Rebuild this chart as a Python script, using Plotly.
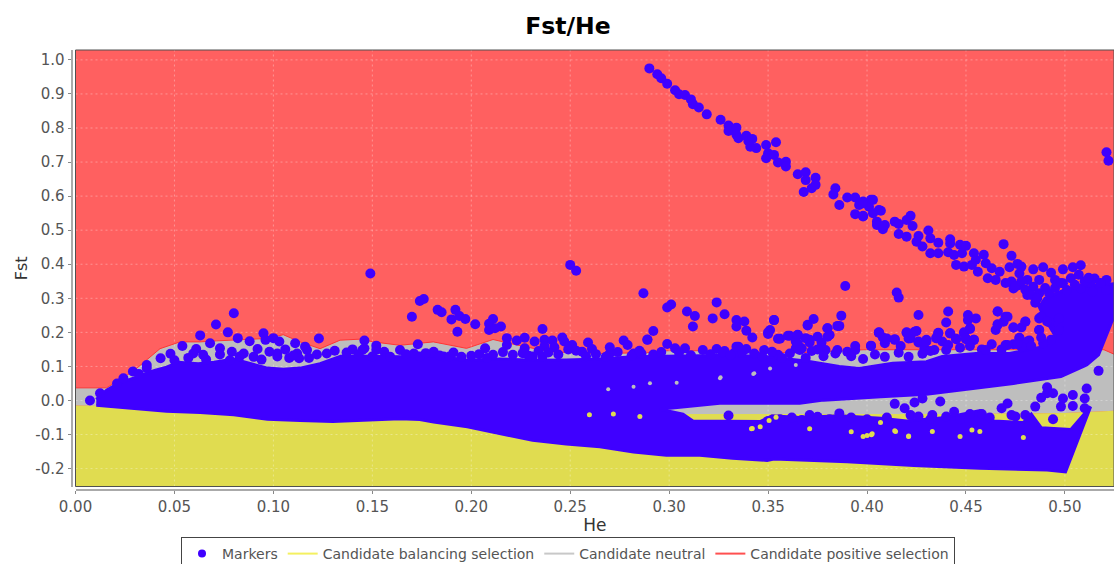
import plotly.graph_objects as go

title = "Fst/He"
x_label = "He"
y_label = "Fst"
he_ticks = [0.00, 0.05, 0.10, 0.15, 0.20, 0.25, 0.30, 0.35, 0.40, 0.45, 0.50]
he_tick_text = ["0.00", "0.05", "0.10", "0.15", "0.20", "0.25", "0.30", "0.35", "0.40", "0.45", "0.50"]
fst_ticks = [-0.2, -0.1, 0.0, 0.1, 0.2, 0.3, 0.4, 0.5, 0.6, 0.7, 0.8, 0.9, 1.0]
fst_tick_text = ["-0.2", "-0.1", "0.0", "0.1", "0.2", "0.3", "0.4", "0.5", "0.6", "0.7", "0.8", "0.9", "1.0"]
he_range = [0.0, 0.5248]
fst_range = [-0.2526, 1.029]

# upper limit of the neutral zone
upper_he = [0, 0.0157, 0.029, 0.0427, 0.0528, 0.0629, 0.0713, 0.0797, 0.0966, 0.105, 0.1135, 0.1236, 0.1337, 0.1438,
            0.1505, 0.164, 0.1808, 0.1976, 0.211, 0.2229, 0.2397, 0.2515, 0.265, 0.2885, 0.2986, 0.3155, 0.3323, 0.366,
            0.3984, 0.4574, 0.5197, 0.5248]
upper_fst = [0.037, 0.037, 0.085, 0.152, 0.172, 0.172, 0.175, 0.177, 0.182, 0.193, 0.172, 0.152, 0.177, 0.18,
             0.172, 0.162, 0.172, 0.153, 0.179, 0.163, 0.143, 0.14, 0.138, 0.14, 0.146, 0.146, 0.143, 0.14,
             0.149, 0.149, 0.149, 0.136]
# lower limit of the neutral zone
lower_he = [0, 0.05, 0.1, 0.2, 0.33, 0.45, 0.5, 0.5248]
lower_fst = [-0.015, -0.02, -0.03, -0.04, -0.04, -0.04, -0.037, -0.03]

# outline of the region where the markers merge into a solid mass
dense_he = [0.0105, 0.0157, 0.021, 0.03, 0.04, 0.046, 0.052, 0.062, 0.07, 0.08, 0.09, 0.097, 0.105, 0.1135, 0.1236,
            0.134, 0.147, 0.164, 0.181, 0.198, 0.2145, 0.231, 0.248, 0.265, 0.282, 0.30, 0.315, 0.332, 0.35, 0.37,
            0.386, 0.396, 0.413, 0.43, 0.438, 0.455, 0.472, 0.489, 0.495, 0.489, 0.487, 0.49, 0.50, 0.51, 0.53, 0.53,
            0.524, 0.520, 0.517, 0.511, 0.498, 0.474, 0.44, 0.43, 0.407, 0.378, 0.366, 0.339, 0.3256, 0.2953,
            0.307, 0.312, 0.346, 0.352, 0.366, 0.386, 0.407, 0.42, 0.44, 0.457, 0.464, 0.479, 0.483, 0.488, 0.503,
            0.513, 0.5003, 0.491, 0.457, 0.4236, 0.39, 0.353, 0.3495, 0.332, 0.3155, 0.2986, 0.282, 0.265, 0.248,
            0.231, 0.2145, 0.198, 0.181, 0.174, 0.164, 0.147, 0.13, 0.1135, 0.097, 0.08, 0.063, 0.046, 0.029, 0.0124,
            0.0105]
dense_fst = [0.003, 0.03, 0.048, 0.068, 0.088, 0.098, 0.112, 0.108, 0.112, 0.122, 0.105, 0.095, 0.092, 0.095, 0.108,
             0.13, 0.13, 0.128, 0.132, 0.118, 0.122, 0.118, 0.119, 0.122, 0.128, 0.13, 0.132, 0.133, 0.128, 0.115,
             0.10, 0.094, 0.109, 0.114, 0.129, 0.138, 0.138, 0.158, 0.19, 0.25, 0.275, 0.30, 0.325, 0.335, 0.345, 0.236,
             0.236, 0.178, 0.134, 0.104, 0.07, 0.05, 0.026, 0.018, 0.011, 0.001, -0.008, -0.008, -0.008, -0.026,
             -0.04, -0.06, -0.062, -0.045, -0.05, -0.045, -0.052, -0.06, -0.05, -0.03, -0.06, -0.065, -0.04, -0.08, -0.085,
             -0.018, -0.21, -0.204, -0.199, -0.191, -0.18, -0.172, -0.176, -0.17, -0.161, -0.161, -0.151, -0.136, -0.128,
             -0.117, -0.097, -0.077, -0.063, -0.056, -0.054, -0.059, -0.062, -0.059, -0.055, -0.042, -0.035, -0.032, -0.023, -0.016,
             -0.014]

# individually readable markers
marker_he = [0.0073, 0.0124, 0.021, 0.0242, 0.029, 0.032, 0.036, 0.036, 0.043, 0.048,
             0.290, 0.294, 0.296, 0.299, 0.303, 0.305, 0.308, 0.311, 0.312, 0.315, 0.319, 0.326, 0.330, 0.330, 0.334, 0.334,
             0.335, 0.339, 0.340, 0.342, 0.341, 0.344, 0.349, 0.354, 0.350, 0.353, 0.349, 0.355, 0.359, 0.359, 0.365, 0.369,
             0.369, 0.374, 0.374, 0.372, 0.368, 0.384, 0.383, 0.390, 0.386, 0.394, 0.396, 0.394, 0.398, 0.402, 0.401, 0.398,
             0.406, 0.405,
             0.521, 0.522, 0.403, 0.398, 0.407, 0.403, 0.398, 0.405, 0.409, 0.408, 0.414, 0.416, 0.422, 0.420, 0.423, 0.416,
             0.420, 0.426, 0.431, 0.425, 0.428, 0.432, 0.436, 0.432, 0.436, 0.442, 0.442, 0.441, 0.447, 0.450, 0.444, 0.448,
             0.445, 0.449, 0.469, 0.473, 0.454, 0.459, 0.455, 0.453, 0.460, 0.463, 0.456, 0.461, 0.467, 0.465, 0.472, 0.476,
             0.478, 0.477, 0.484, 0.489, 0.493, 0.499, 0.504, 0.508, 0.503, 0.507, 0.515, 0.521, 0.487, 0.495, 0.499, 0.473,
             0.477, 0.481, 0.484, 0.487, 0.485, 0.481, 0.474, 0.501, 0.492, 0.513, 0.508, 0.514, 0.521, 0.415, 0.416,
             0.426, 0.441, 0.451, 0.455, 0.451, 0.440, 0.466, 0.470, 0.469, 0.466, 0.465, 0.425, 0.420, 0.422, 0.406, 0.408,
             0.409, 0.402, 0.414, 0.417, 0.426, 0.430, 0.429, 0.436, 0.435, 0.438, 0.441, 0.442, 0.445, 0.449, 0.452, 0.450,
             0.454, 0.474, 0.478, 0.480, 0.477, 0.470, 0.474, 0.479, 0.482, 0.487, 0.492, 0.487, 0.497, 0.493, 0.489, 0.497,
             0.434,
             0.517, 0.511, 0.491, 0.491, 0.488, 0.494, 0.499, 0.498, 0.504, 0.510, 0.504, 0.510, 0.494, 0.485, 0.471, 0.468,
             0.473, 0.475, 0.480, 0.437, 0.428, 0.424, 0.414, 0.419, 0.422, 0.426, 0.433, 0.330, 0.367, 0.371, 0.386, 0.440,
             0.444,
             0.287, 0.301, 0.299, 0.324, 0.309, 0.313, 0.328, 0.322, 0.312, 0.292, 0.289, 0.299, 0.303, 0.308, 0.334, 0.338,
             0.334, 0.339, 0.342, 0.324, 0.328, 0.335, 0.339, 0.333, 0.353, 0.351, 0.350, 0.356, 0.361, 0.365, 0.364, 0.348,
             0.355, 0.364, 0.367, 0.369, 0.371, 0.370, 0.373, 0.375, 0.377, 0.380, 0.381, 0.380, 0.385, 0.387, 0.389, 0.385,
             0.379, 0.372, 0.390, 0.394, 0.402, 0.406, 0.394,
             0.250, 0.253, 0.176, 0.174, 0.170, 0.183, 0.185, 0.192, 0.190, 0.194, 0.197, 0.202, 0.193, 0.211, 0.209, 0.209,
             0.215, 0.212, 0.173, 0.236, 0.218, 0.223, 0.218, 0.227, 0.232, 0.227, 0.237, 0.237, 0.241, 0.246, 0.247, 0.242,
             0.251, 0.249, 0.259, 0.261, 0.277, 0.279, 0.289, 0.270, 0.207,
             0.149, 0.080, 0.071, 0.063, 0.077, 0.082, 0.088, 0.095, 0.096, 0.123, 0.146, 0.152, 0.164, 0.054, 0.068, 0.073,
             0.061, 0.092, 0.100, 0.103, 0.116, 0.111, 0.146, 0.079, 0.102,
             0.0595, 0.0645, 0.083, 0.098, 0.102, 0.112, 0.117, 0.113, 0.145, 0.152, 0.150,
             0.181, 0.171, 0.186, 0.200, 0.221, 0.231, 0.256, 0.270, 0.282, 0.174, 0.189, 0.211, 0.236, 0.286,
             0.353, 0.370, 0.386, 0.350, 0.360, 0.355, 0.365, 0.371, 0.381, 0.380, 0.365, 0.334,
             0.406, 0.410, 0.414, 0.420, 0.424, 0.421, 0.426, 0.430, 0.436, 0.442, 0.435, 0.445, 0.449, 0.452, 0.450, 0.454,
             0.466, 0.471, 0.466, 0.474, 0.480, 0.488, 0.491, 0.487, 0.497, 0.471, 0.477, 0.481, 0.478]
marker_fst = [0.0, 0.021, 0.05, 0.065, 0.085, 0.078, 0.104, 0.095, 0.124, 0.137,
              0.975, 0.958, 0.946, 0.930, 0.911, 0.899, 0.897, 0.884, 0.870, 0.860, 0.840, 0.824, 0.807, 0.791, 0.801, 0.780,
              0.770, 0.777, 0.762, 0.768, 0.745, 0.741, 0.750, 0.758, 0.726, 0.721, 0.711, 0.699, 0.701, 0.687, 0.664, 0.670,
              0.647, 0.654, 0.633, 0.623, 0.612, 0.623, 0.605, 0.596, 0.574, 0.596, 0.574, 0.547, 0.584, 0.589, 0.569, 0.540,
              0.559, 0.525,
              0.729, 0.704, 0.589, 0.579, 0.557, 0.550, 0.542, 0.515, 0.515, 0.503, 0.525, 0.518, 0.542, 0.530, 0.512, 0.489,
              0.481, 0.483, 0.499, 0.466, 0.452, 0.476, 0.463, 0.432, 0.432, 0.473, 0.461, 0.435, 0.457, 0.454, 0.427, 0.432,
              0.398, 0.393, 0.459, 0.425, 0.432, 0.428, 0.413, 0.398, 0.403, 0.388, 0.378, 0.359, 0.378, 0.354, 0.391, 0.401,
              0.393, 0.373, 0.385, 0.391, 0.375, 0.385, 0.391, 0.397, 0.359, 0.369, 0.358, 0.354, 0.354, 0.354, 0.344, 0.349,
              0.339, 0.354, 0.334, 0.315, 0.287, 0.310, 0.329, 0.324, 0.315, 0.344, 0.329, 0.319, 0.324, 0.317, 0.302,
              0.251, 0.261, 0.251, 0.241, 0.236, 0.229, 0.261, 0.246, 0.231, 0.224, 0.207, 0.204, 0.199, 0.183, 0.199, 0.185,
              0.168, 0.161, 0.180, 0.160, 0.170, 0.178, 0.153, 0.199, 0.183, 0.173, 0.163, 0.197, 0.180, 0.197, 0.210, 0.180,
              0.178, 0.214, 0.214, 0.231, 0.184, 0.163, 0.165, 0.158, 0.176, 0.241, 0.230, 0.207, 0.207, 0.178, 0.168, 0.241,
              0.148,
              0.087, 0.035, 0.039, 0.021, 0.008, 0.021, 0.006, -0.018, 0.016, 0.006, -0.016, -0.023, -0.055, -0.018, -0.009, -0.023,
              -0.043, -0.047, -0.043, -0.003, 0.006, -0.006, -0.010, -0.023, -0.043, -0.047, -0.043, -0.044, -0.057, -0.043, -0.038, -0.047,
              -0.033,
              0.315, 0.282, 0.273, 0.288, 0.261, 0.248, 0.253, 0.241, 0.217, 0.204, 0.179, 0.166, 0.153, 0.153, 0.236, 0.232,
              0.217, 0.205, 0.185, 0.151, 0.145, 0.158, 0.151, 0.140, 0.236, 0.207, 0.195, 0.181, 0.190, 0.193, 0.173, 0.148,
              0.134, 0.153, 0.153, 0.183, 0.170, 0.220, 0.239, 0.187, 0.170, 0.187, 0.192, 0.212, 0.219, 0.249, 0.336, 0.148,
              0.148, 0.145, 0.143, 0.160, 0.160, 0.199, 0.148,
              0.398, 0.381, 0.298, 0.292, 0.246, 0.266, 0.259, 0.266, 0.238, 0.248, 0.239, 0.224, 0.202, 0.239, 0.225, 0.207,
              0.217, 0.212, 0.165, 0.210, 0.183, 0.176, 0.163, 0.184, 0.173, 0.153, 0.178, 0.160, 0.176, 0.185, 0.173, 0.156,
              0.163, 0.150, 0.170, 0.151, 0.176, 0.163, 0.178, 0.156, 0.153,
              0.373, 0.256, 0.223, 0.191, 0.200, 0.183, 0.174, 0.197, 0.178, 0.182, 0.176, 0.161, 0.148, 0.160, 0.168, 0.153,
              0.151, 0.151, 0.183, 0.173, 0.158, 0.168, 0.153, 0.143, 0.138,
              0.138, 0.134, 0.129, 0.143, 0.129, 0.138, 0.148, 0.124, 0.148, 0.148, 0.129,
              0.143, 0.138, 0.129, 0.131, 0.134, 0.129, 0.143, 0.138, 0.138, 0.129, 0.129, 0.134, 0.129, 0.138,
              0.236, 0.222, 0.219, 0.200, 0.190, 0.181, 0.192, 0.178, 0.192, 0.212, 0.168, 0.158,
              0.200, 0.182, 0.178, 0.200, 0.202, 0.182, 0.173, 0.173, 0.197, 0.197, 0.183, 0.181, 0.200, 0.212, 0.182, 0.178,
              0.261, 0.246, 0.222, 0.214, 0.232, 0.246, 0.232, 0.207, 0.207, 0.163, 0.183, 0.173, 0.158]

# markers along the scalloped edges of the solid mass
edge_he = [0.050, 0.057, 0.066, 0.073, 0.078, 0.085, 0.090, 0.094, 0.106, 0.108, 0.110, 0.118, 0.122, 0.127, 0.131, 0.137,
           0.140, 0.143, 0.156, 0.159, 0.167, 0.177, 0.184, 0.191, 0.195, 0.204, 0.208, 0.216, 0.226, 0.229, 0.234, 0.239,
           0.244, 0.253, 0.258, 0.263, 0.268, 0.274, 0.281, 0.285, 0.292, 0.296, 0.305, 0.311, 0.317, 0.321, 0.327, 0.331,
           0.337, 0.343, 0.347, 0.352, 0.357, 0.361, 0.366, 0.369, 0.375, 0.378, 0.384, 0.392, 0.398, 0.404, 0.409, 0.416,
           0.421, 0.428, 0.432, 0.440, 0.447, 0.452, 0.458, 0.463, 0.468, 0.476, 0.483, 0.488, 0.460,
           0.470, 0.475, 0.480, 0.483, 0.486, 0.478, 0.490, 0.495, 0.505, 0.510, 0.518, 0.512, 0.498,
           0.350, 0.356, 0.362, 0.375, 0.381, 0.392, 0.400, 0.410, 0.432, 0.447, 0.452, 0.458, 0.462]
edge_fst = [0.118, 0.125, 0.120, 0.135, 0.118, 0.138, 0.128, 0.120, 0.150, 0.125, 0.132, 0.125, 0.135, 0.138, 0.146, 0.141,
            0.150, 0.135, 0.143, 0.128, 0.136, 0.139, 0.132, 0.141, 0.128, 0.136, 0.125, 0.142, 0.139, 0.131, 0.145, 0.141,
            0.135, 0.146, 0.130, 0.136, 0.128, 0.142, 0.131, 0.146, 0.135, 0.142, 0.140, 0.133, 0.148, 0.136, 0.141, 0.133,
            0.143, 0.138, 0.130, 0.143, 0.125, 0.138, 0.148, 0.125, 0.150, 0.130, 0.138, 0.130, 0.122, 0.135, 0.128, 0.140,
            0.128, 0.137, 0.145, 0.148, 0.155, 0.160, 0.150, 0.165, 0.150, 0.165, 0.160, 0.185, 0.148,
            0.345, 0.335, 0.325, 0.310, 0.300, 0.350, 0.330, 0.330, 0.340, 0.350, 0.345, 0.360, 0.345,
            -0.060, -0.055, -0.050, -0.048, -0.055, -0.050, -0.055, -0.050, -0.055, -0.055, -0.040, -0.040, -0.050]

# small unfilled gaps left inside the solid mass
gap_yellow_he = [0.2597, 0.2718, 0.2852, 0.342, 0.3416, 0.346, 0.3505, 0.354, 0.371, 0.392, 0.398, 0.4022, 0.414, 0.421,
                 0.4068, 0.400, 0.4026, 0.421, 0.433, 0.453, 0.457, 0.447, 0.479, 0.4144]
gap_yellow_fst = [-0.042, -0.040, -0.047, -0.082, -0.083, -0.077, -0.059, -0.049, -0.083, -0.092, -0.106, -0.101, -0.089, -0.106,
                  -0.065, -0.103, -0.098, -0.104, -0.091, -0.087, -0.091, -0.106, -0.109, -0.091]
gap_grey_he = [0.2903, 0.3257, 0.282, 0.3038, 0.3425, 0.351, 0.2692, 0.364, 0.343, 0.326]
gap_grey_fst = [0.0504, 0.065, 0.040, 0.052, 0.078, 0.094, 0.033, 0.104, 0.080, 0.068]

RED = "#FF6060"
GREY = "#BEBEBE"
YELLOW = "#E0DC50"
BLUE = "#3F00FF"
GRID = "rgba(255,255,255,0.33)"
TEXT = "#555555"
FONT = "DejaVu Sans"

fig = go.Figure()

# legend entries first, so that the legend order matches while marks are layered below
fig.add_trace(go.Scatter(x=[None], y=[None], mode="markers", name="Markers",
                         marker=dict(color=BLUE, size=8)))
fig.add_trace(go.Scatter(x=[None], y=[None], mode="lines", name="Candidate balancing selection",
                         line=dict(color="#F4F060", width=2)))
fig.add_trace(go.Scatter(x=[None], y=[None], mode="lines", name="Candidate neutral",
                         line=dict(color="#C8C8C8", width=2)))
fig.add_trace(go.Scatter(x=[None], y=[None], mode="lines", name="Candidate positive selection",
                         line=dict(color="#FF5050", width=2)))

# zones
fig.add_trace(go.Scatter(x=upper_he + [he_range[1], he_range[0]],
                         y=upper_fst + [fst_range[1], fst_range[1]],
                         fill="toself", fillcolor=RED, mode="lines",
                         line=dict(color=RED, width=0), showlegend=False, hoverinfo="skip"))
fig.add_trace(go.Scatter(x=upper_he + lower_he[::-1],
                         y=upper_fst + lower_fst[::-1],
                         fill="toself", fillcolor=GREY, mode="lines",
                         line=dict(color=GREY, width=0), showlegend=False, hoverinfo="skip"))
fig.add_trace(go.Scatter(x=lower_he + [he_range[1], he_range[0]],
                         y=lower_fst + [fst_range[0], fst_range[0]],
                         fill="toself", fillcolor=YELLOW, mode="lines",
                         line=dict(color=YELLOW, width=0), showlegend=False, hoverinfo="skip"))
fig.add_trace(go.Scatter(x=upper_he, y=upper_fst, mode="lines",
                         line=dict(color="#FF3535", width=1), showlegend=False, hoverinfo="skip"))

# grid on top of the zones
for t in he_ticks:
    fig.add_trace(go.Scatter(x=[t, t], y=fst_range, mode="lines", showlegend=False, hoverinfo="skip",
                             line=dict(color=GRID, width=1, dash="2px,3px")))
for t in fst_ticks:
    fig.add_trace(go.Scatter(x=he_range, y=[t, t], mode="lines", showlegend=False, hoverinfo="skip",
                             line=dict(color=GRID, width=1, dash="2px,3px")))

# markers
fig.add_trace(go.Scatter(x=dense_he, y=dense_fst, fill="toself", fillcolor=BLUE, mode="lines",
                         line=dict(color=BLUE, width=3), showlegend=False, hoverinfo="skip"))
fig.add_trace(go.Scatter(x=marker_he + edge_he, y=marker_fst + edge_fst, mode="markers", showlegend=False,
                         marker=dict(color=BLUE, size=10, line=dict(width=0))))
fig.add_trace(go.Scatter(x=gap_yellow_he, y=gap_yellow_fst, mode="markers", showlegend=False, hoverinfo="skip",
                         marker=dict(color=YELLOW, size=5, line=dict(width=0))))
fig.add_trace(go.Scatter(x=gap_grey_he, y=gap_grey_fst, mode="markers", showlegend=False, hoverinfo="skip",
                         marker=dict(color=GREY, size=4, line=dict(width=0))))

W, H = 1114, 564
x0 = 75.5 / W
y0 = (H - 486.5) / H
y1 = (H - 50) / H

fig.update_layout(
    width=W, height=H,
    margin=dict(l=0, r=0, t=0, b=0, autoexpand=False),
    paper_bgcolor="white", plot_bgcolor=RED,
    font=dict(family=FONT, color=TEXT, size=13),
    title=dict(text=title, x=568 / W, xanchor="center", xref="paper", y=(H - 26) / H, yanchor="middle",
               font=dict(family=FONT, size=23.5, color="#000000", weight="bold")),
    xaxis=dict(domain=[x0, 1], range=he_range, anchor="free", position=y0 - 3 / H, automargin=False,
               tickvals=he_ticks, ticktext=he_tick_text, showgrid=False, zeroline=False,
               showline=True, linecolor="#AAAAAA", linewidth=2, ticks="outside", ticklen=3,
               tickcolor="#888888", tickfont=dict(size=15, color=TEXT),
               title=dict(text=x_label, standoff=3, font=dict(size=17, color="#333333"))),
    yaxis=dict(domain=[y0, y1], range=fst_range, anchor="free", position=x0 - 4 / W, automargin=False,
               tickvals=fst_ticks, ticktext=fst_tick_text, showgrid=False, zeroline=False,
               showline=True, linecolor="#AAAAAA", linewidth=2, ticks="outside", ticklen=3,
               tickcolor="#888888", tickfont=dict(size=15, color=TEXT),
               title=dict(text=y_label, standoff=3, font=dict(size=16, color="#333333"))),
    legend=dict(orientation="h", x=568 / W, xanchor="center", y=(H - 537) / H, yanchor="top",
                bordercolor="#444444", borderwidth=1, bgcolor="white",
                font=dict(size=14, color=TEXT), itemwidth=30),
    shapes=[dict(type="rect", xref="x domain", yref="y domain", x0=0, x1=1, y0=0, y1=1,
                 line=dict(color="#505050", width=1), layer="above")],
    hovermode="closest",
)

fig.write_html("out.html", config={"displayModeBar": False},
               post_script="document.body.style.margin='0';document.body.style.overflow='hidden';")
